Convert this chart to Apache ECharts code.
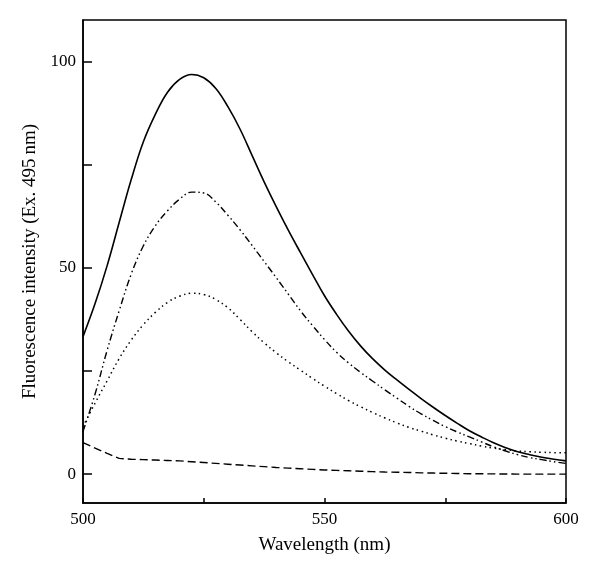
<!DOCTYPE html>
<html>
<head>
<meta charset="utf-8">
<script src="https://cdn.jsdelivr.net/npm/echarts@6/dist/echarts.min.js"></script>
<style>html,body{margin:0;padding:0;background:#fff;}#c{width:600px;height:578px;}</style>
</head>
<body>
<div id="c"></div>
<script>
const wavelengths = [500, 502.5, 505, 507.5, 510, 512.5, 515, 517.5, 520, 522.5, 525, 527.5, 530, 532.5, 535, 537.5, 540, 542.5, 545, 547.5, 550, 552.5, 555, 557.5, 560, 562.5, 565, 567.5, 570, 572.5, 575, 577.5, 580, 582.5, 585, 587.5, 590, 592.5, 595, 597.5, 600];
const solidValues = [33.3, 41.3, 50.5, 61, 71.4, 80.5, 87.2, 92.5, 95.6, 96.8, 96, 93.4, 89, 83.6, 77.2, 70.8, 64.8, 59.1, 53.7, 48.4, 43.2, 38.7, 34.6, 31.0, 27.9, 25.2, 22.8, 20.5, 18.3, 16.2, 14.2, 12.3, 10.5, 9.0, 7.6, 6.4, 5.4, 4.7, 4.1, 3.6, 3.2];
const dashDotValues = [10.3, 19.4, 30, 39.6, 48.5, 55.3, 60.2, 63.8, 66.6, 68.3, 68.1, 65.9, 62.7, 59.2, 55.4, 51.5, 47.6, 43.6, 39.6, 36, 32.6, 29.5, 26.9, 24.6, 22.5, 20.4, 18.4, 16.4, 14.6, 13.0, 11.5, 10.2, 9.0, 7.8, 6.6, 5.6, 4.7, 4.0, 3.5, 3.0, 2.6];
const dottedValues = [11.5, 17.2, 22.6, 28, 32.5, 36.2, 39.2, 41.6, 43.1, 43.8, 43.5, 42.3, 40.3, 37.5, 34.5, 31.8, 29.4, 27.2, 25.2, 23.2, 21.3, 19.5, 17.8, 16.3, 14.9, 13.6, 12.4, 11.3, 10.4, 9.5, 8.7, 8.0, 7.4, 6.8, 6.3, 5.9, 5.6, 5.4, 5.3, 5.2, 5.2];
const dashedValues = [7.6, 6.3, 5.0, 3.8, 3.6, 3.5, 3.4, 3.3, 3.2, 3.0, 2.8, 2.6, 2.4, 2.2, 2.0, 1.8, 1.6, 1.45, 1.3, 1.15, 1.0, 0.9, 0.8, 0.7, 0.6, 0.5, 0.45, 0.4, 0.3, 0.25, 0.2, 0.15, 0.1, 0.08, 0.05, 0.02, 0, 0, 0, 0, 0];
const yTickValues = [0, 25, 50, 75, 100];
const yLabelValues = [0, 50, 100];
const xLabelValues = [500, 550, 600];

const pair = vals => wavelengths.map((w, i) => [w, vals[i]]);
const font = '"Liberation Serif", "DejaVu Serif", serif';

const chart = echarts.init(document.getElementById('c'), null, {renderer: 'canvas'});
chart.setOption({
  animation: false,
  backgroundColor: '#fff',
  grid: {left: 83, right: 34, top: 20, bottom: 75, show: true, borderColor: '#000', borderWidth: 1.5, containLabel: false},
  xAxis: {
    type: 'value', min: 500, max: 600, interval: 25,
    name: 'Wavelength (nm)', nameLocation: 'middle', nameGap: 33,
    nameTextStyle: {fontFamily: font, fontSize: 19, color: '#000'},
    axisLine: {show: true, onZero: false, lineStyle: {color: '#000', width: 1.5}},
    axisTick: {show: true, inside: true, length: 5, lineStyle: {color: '#000', width: 1.5}},
    axisLabel: {customValues: xLabelValues, fontFamily: font, fontSize: 17, color: '#000', margin: 8},
    splitLine: {show: false}
  },
  yAxis: {
    type: 'value', min: -7, max: 110,
    name: 'Fluorescence intensity (Ex. 495\u2009nm)', nameLocation: 'middle', nameGap: 42, nameRotate: 90,
    nameTextStyle: {fontFamily: font, fontSize: 19, color: '#000'},
    axisLine: {show: true, onZero: false, lineStyle: {color: '#000', width: 1.5}},
    axisTick: {show: true, inside: true, length: 9, customValues: yTickValues, lineStyle: {color: '#000', width: 1.5}},
    axisLabel: {customValues: yLabelValues, fontFamily: font, fontSize: 17, color: '#000', margin: 7},
    splitLine: {show: false}
  },
  series: [
    {name: 'solid', type: 'line', data: pair(solidValues), smooth: 0.4, showSymbol: false, lineStyle: {color: '#000', width: 1.6, type: 'solid'}},
    {name: 'dashdot', type: 'line', data: pair(dashDotValues), smooth: 0.4, showSymbol: false, lineStyle: {color: '#000', width: 1.4, type: [7, 3, 1.5, 3, 1.5, 3]}},
    {name: 'dotted', type: 'line', data: pair(dottedValues), smooth: 0.4, showSymbol: false, lineStyle: {color: '#000', width: 1.5, type: [1.5, 3.5]}},
    {name: 'dashed', type: 'line', data: pair(dashedValues), smooth: false, showSymbol: false, lineStyle: {color: '#000', width: 1.4, type: [8, 4]}}
  ]
});
</script>
</body>
</html>
